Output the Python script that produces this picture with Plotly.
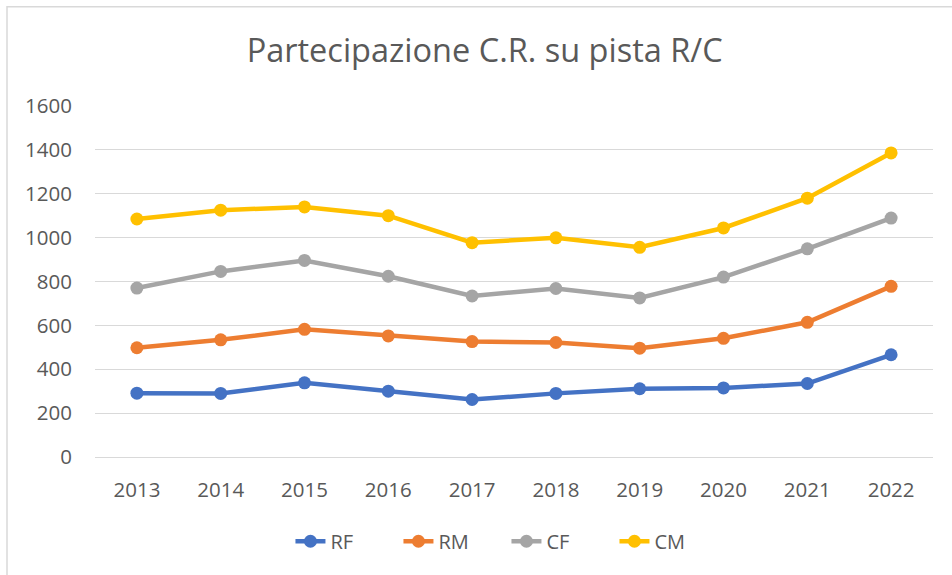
import plotly.graph_objects as go

years = ["2013", "2014", "2015", "2016", "2017", "2018", "2019", "2020", "2021", "2022"]
rf = [291, 290, 338, 300, 262, 290, 311, 315, 335, 466]
rm = [498, 534, 582, 552, 526, 522, 496, 541, 614, 778]
cf = [770, 846, 896, 824, 734, 768, 725, 820, 949, 1089]
cm = [1085, 1125, 1140, 1100, 977, 999, 956, 1044, 1180, 1386]

series = [("RF", rf, "#4472C4"), ("RM", rm, "#ED7D31"), ("CF", cf, "#A5A5A5"), ("CM", cm, "#FFC000")]

fig = go.Figure()
for name, vals, col in series:
    fig.add_trace(go.Scatter(x=years, y=vals, name=name, mode="lines+markers",
                             line=dict(color=col, width=4.5),
                             marker=dict(color=col, size=13)))

txt = "#595959"
fig.update_layout(
    width=952, height=575,
    margin=dict(l=95, r=19, t=106, b=118),
    paper_bgcolor="white", plot_bgcolor="white",
    font=dict(family="Open Sans, Noto Sans, sans-serif", color=txt, size=20),
    title=dict(text="Partecipazione C.R. su pista R/C", x=0.465, xref="paper", xanchor="center",
               y=0.912, yanchor="middle", font=dict(size=32.5, color=txt)),
    xaxis=dict(type="category", range=[-0.5, 9.5], showgrid=False, showline=False,
               ticks="", ticklabelstandoff=18, tickfont=dict(size=20.5, color=txt)),
    yaxis=dict(range=[0, 1600], dtick=200, showgrid=True, gridcolor="#D9D9D9", gridwidth=1.3,
               zeroline=True, zerolinecolor="#D9D9D9", zerolinewidth=1.3,
               showline=False, ticks="", ticklabelstandoff=22, tickfont=dict(size=20.5, color=txt)),
    legend=dict(orientation="h", x=0.491, xanchor="center", y=-0.24, yanchor="middle",
                font=dict(size=20, color=txt), entrywidth=63, entrywidthmode="pixels",
                traceorder="normal"),
    showlegend=True,
)
fig.add_shape(type="rect", xref="paper", yref="paper", x0=-0.105, x1=1.1, y0=-0.45, y1=1.283,
              line=dict(color="#D9D9D9", width=1.5), layer="below")

fig.write_html("out.html", config={"displayModeBar": False},
               post_script="document.body.style.margin='0';")
